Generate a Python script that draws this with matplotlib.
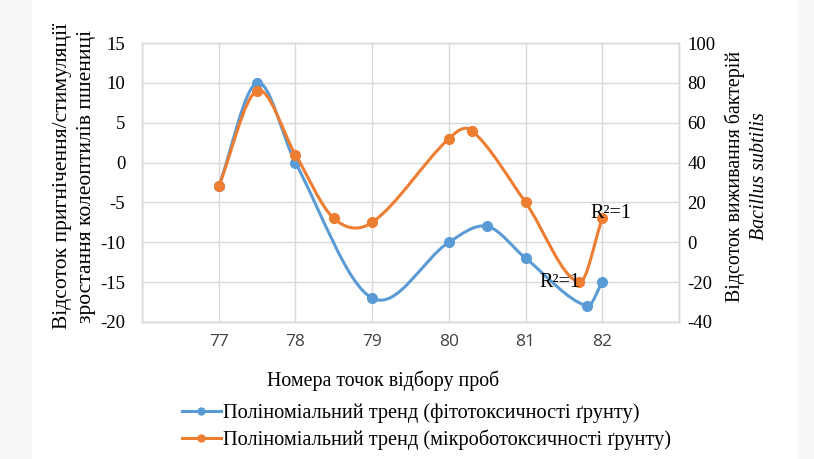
import matplotlib
matplotlib.use("Agg")
import matplotlib.pyplot as plt
from matplotlib.path import Path
from matplotlib.patches import PathPatch, Rectangle
from matplotlib.lines import Line2D

plt.rcParams["axes.unicode_minus"] = False

# номера точок відбору проб та значення
phyto_x = [77, 77.5, 78, 79, 80, 80.5, 81, 81.8, 82]
phyto_y = [-3, 10, 0, -17, -10, -8, -12, -18, -15]          # ліва вісь

micro_x = [77, 77.5, 78, 78.5, 79, 80, 80.3, 81, 81.7, 82]
micro_y = [28, 76, 44, 12, 10, 52, 56, 20, -20, 12]         # права вісь

x_ticks = [76, 77, 78, 79, 80, 81, 82, 83]
x_labels = ["", "77", "78", "79", "80", "81", "82", ""]

BLUE = "#5B9BD5"
ORANGE = "#ED7D31"
GRID = "#D9D9D9"


def smooth_path(xs, ys):
    # bezier path like excel "smoothed line", tangents scaled by x-spacing
    pts = list(zip(xs, ys))
    verts = [pts[0]]
    codes = [Path.MOVETO]
    n = len(pts)
    for i in range(n - 1):
        p0 = pts[i - 1] if i > 0 else pts[i]
        p1 = pts[i]
        p2 = pts[i + 1]
        p3 = pts[i + 2] if i + 2 < n else pts[i + 1]
        d01 = p1[0] - p0[0]
        d12 = p2[0] - p1[0]
        d23 = p3[0] - p2[0]
        f1 = d12 / (d01 + d12) / 3
        f2 = d12 / (d12 + d23) / 3
        c1 = (p1[0] + (p2[0] - p0[0]) * f1, p1[1] + (p2[1] - p0[1]) * f1)
        c2 = (p2[0] - (p3[0] - p1[0]) * f2, p2[1] - (p3[1] - p1[1]) * f2)
        verts += [c1, c2, p2]
        codes += [Path.CURVE4] * 3
    return Path(verts, codes)


fig = plt.figure(figsize=(8.14, 4.59), dpi=100, facecolor="#F7F8FA")
fig.patches.append(Rectangle((32 / 814, 0), (797 - 32) / 814, 1, transform=fig.transFigure,
                             facecolor="white", edgecolor="none", zorder=-10))

ax = fig.add_axes([142 / 814, 1 - 322 / 459, (679 - 142) / 814, (322 - 43) / 459])
ax2 = ax.twinx()
ax.patch.set_alpha(0)

ax.set_xlim(76, 83)
ax.set_ylim(-20, 15)
ax2.set_ylim(-40, 100)
ax.set_yticks(range(-20, 16, 5))
ax2.set_yticks(range(-40, 101, 20))
ax.set_xticks(x_ticks)
ax.set_xticklabels(x_labels, fontfamily="Open Sans", fontsize=12.5, color="#404040")

for a in (ax, ax2):
    a.tick_params(length=0)
    for s in a.spines.values():
        s.set_color(GRID)
        s.set_linewidth(1)
ax.grid(True, color=GRID, linewidth=1)
ax.set_axisbelow(True)
ax.tick_params(axis="x", pad=9)
ax.tick_params(axis="y", pad=12)
ax2.tick_params(axis="y", pad=6)
for t in ax.get_yticklabels() + ax2.get_yticklabels():
    t.set_fontfamily("Liberation Serif")
    t.set_fontsize(13.5)

ax.add_patch(PathPatch(smooth_path(phyto_x, phyto_y), facecolor="none", edgecolor=BLUE,
                       linewidth=2.2, transform=ax.transData))
ax.plot(phyto_x, phyto_y, "o", color=BLUE, ms=7)
ax2.add_patch(PathPatch(smooth_path(micro_x, micro_y), facecolor="none", edgecolor=ORANGE,
                        linewidth=2.2, transform=ax2.transData))
ax2.plot(micro_x, micro_y, "o", color=ORANGE, ms=7)

ax2.text(81.85, 14.4, "R²=1", fontfamily="Liberation Serif", fontsize=14.5, va="center", ha="left")
ax2.text(81.18, -20.4, "R²=1", fontfamily="Liberation Serif", fontsize=14.5, va="center", ha="left")

fig.text(62 / 814, 1 - 176 / 459, "Відсоток пригнічення/стимуляції",
         rotation=90, ha="center", va="center", fontfamily="Liberation Serif", fontsize=15.5)
fig.text(87 / 814, 1 - 176 / 459, "зростання колеоптилів пшениці",
         rotation=90, ha="center", va="center", fontfamily="Liberation Serif", fontsize=15.5)
fig.text(735 / 814, 1 - 176 / 459, "Відсоток виживання бактерій",
         rotation=90, ha="center", va="center", fontfamily="Liberation Serif", fontsize=14.3)
fig.text(760 / 814, 1 - 176 / 459, "Bacillus subtilis",
         rotation=90, ha="center", va="center", fontfamily="Liberation Serif", fontsize=14.3,
         style="italic")
fig.text(383 / 814, 1 - 381 / 459, "Номера точок відбору проб",
         ha="center", va="center", fontfamily="Liberation Serif", fontsize=14.3)

handles = [Line2D([], [], color=BLUE, lw=2.2, marker="o", ms=5),
           Line2D([], [], color=ORANGE, lw=2.2, marker="o", ms=5)]
labels = ["Поліноміальний тренд (фітотоксичності ґрунту)",
          "Поліноміальний тренд (мікроботоксичності ґрунту)"]
fig.legend(handles, labels, loc="upper left", bbox_to_anchor=(182 / 814, 1 - 403 / 459),
           frameon=False, prop={"family": "Liberation Serif", "size": 14.7},
           handlelength=1.9, handletextpad=0.1, borderpad=0, borderaxespad=0,
           labelspacing=0.35)

fig.savefig("out.png", dpi=100, facecolor=fig.get_facecolor())
